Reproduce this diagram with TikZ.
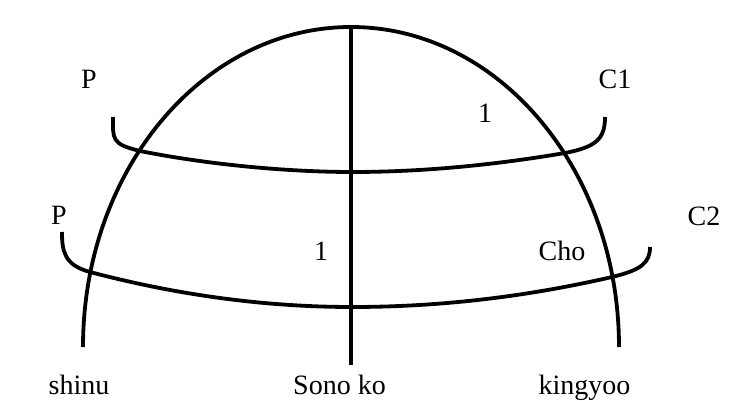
\documentclass[tikz,border=0pt]{standalone}
\usepackage{fontspec}
\setmainfont{Liberation Serif}
\tikzset{
  stroke/.style={line width=3.8pt, line join=round},
  lbl/.style={font=\fontsize{28}{32}\selectfont, anchor=base, inner sep=0pt},
}
\begin{document}
\begin{tikzpicture}[x=1pt,y=1pt]
    \useasboundingbox (0,0) rectangle (754,401);
    % dome and middle line
    \coordinate (shinufoot) at (83,54);
    \coordinate (top) at (351,374);
    \coordinate (sonofoot) at (351,36);
    \draw[stroke] (shinufoot) arc[start angle=180, end angle=0, x radius=268pt, y radius=320pt];
    \draw[stroke, line width=3.3pt] (top) -- (sonofoot);
    % upper band (C1)
    \coordinate (c1l) at (113,284);
    \coordinate (c1r) at (605,284);
    \draw[stroke] (c1l) .. controls (113,262) and (111,257) .. (140,250)
        .. controls (210,236) and (290,229) .. (352,229)
        .. controls (423,229) and (494,236) .. (565,248)
        .. controls (596,254) and (605,262) .. (c1r);
    % lower band (C2)
    \coordinate (c2l) at (62,169);
    \coordinate (c2r) at (650,154);
    \draw[stroke] (c2l) .. controls (62,150) and (64,136) .. (90,129)
        .. controls (177,106) and (265,94) .. (352,94)
        .. controls (439,94) and (525,104) .. (612,124)
        .. controls (641,131) and (650,138) .. (c2r);
    % labels
    \node[lbl] (p1) at (89,312) {P};
    \node[lbl] (c1) at (615,312) {C1};
    \node[lbl] (one1) at (485,278) {1};
    \node[lbl] (p2) at (59,176) {P};
    \node[lbl] (c2) at (704,175) {C2};
    \node[lbl] (one2) at (321,140) {1};
    \node[lbl] (cho) at (562,140) {Cho};
    \node[lbl] (shinu) at (79,6) {shinu};
    \node[lbl] (sonoko) at (339.5,6) {Sono ko};
    \node[lbl] (kingyoo) at (584.5,6) {kingyoo};
\end{tikzpicture}
\end{document}
